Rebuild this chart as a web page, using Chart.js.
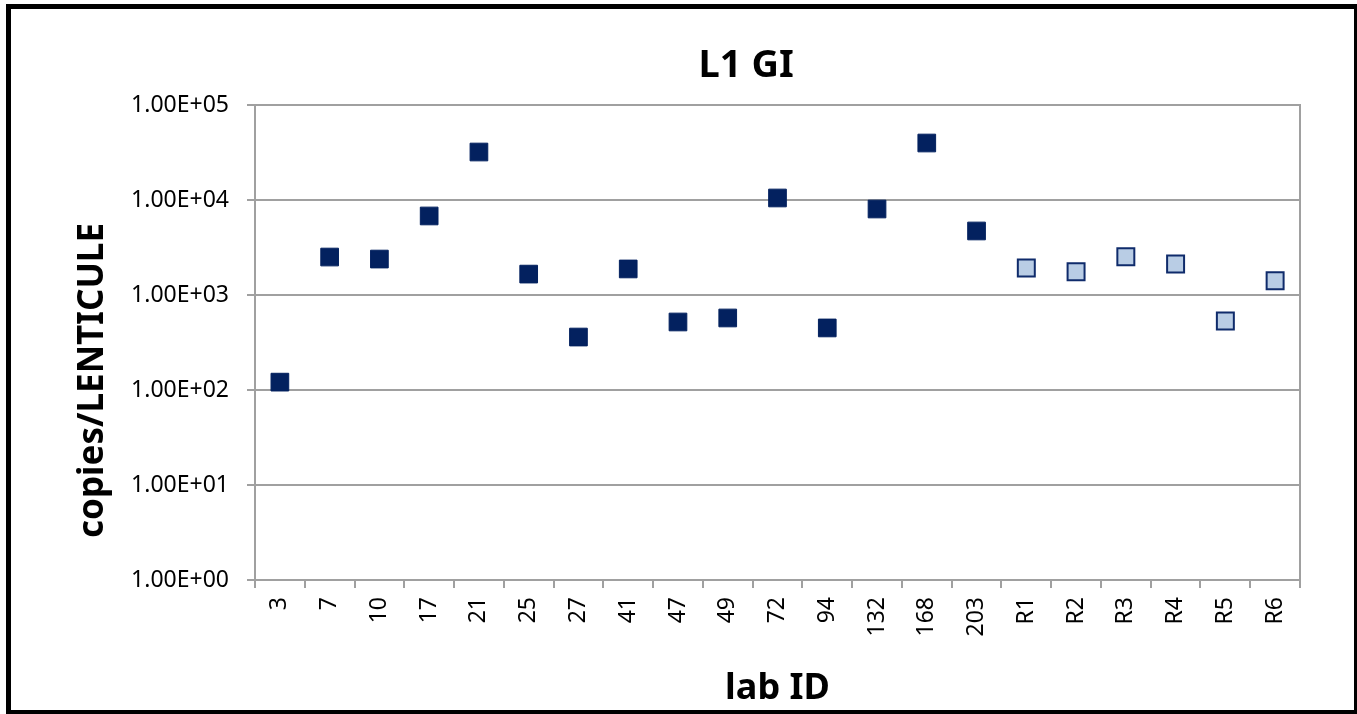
<!DOCTYPE html>
<html>
<head>
<meta charset="utf-8">
<script src="https://cdn.jsdelivr.net/npm/chart.js@4"></script>
<style>
  html, body { margin: 0; padding: 0; background: #fff; overflow: hidden; }
  .frame {
    position: absolute; left: 6px; top: 4px;
    width: 1343px; height: 701px;
    border: 5px solid #000;
  }
</style>
</head>
<body>
<div class="frame"><canvas id="chart"></canvas></div>
<script>
let labIds = ["3", "7", "10", "17", "21", "25", "27", "41", "47", "49", "72", "94", "132", "168", "203"];
let labValues = [121, 2510, 2390, 6790, 32000, 1660, 361, 1880, 520, 573, 10500, 450, 8040, 39800, 4720];

let refIds = ["R1", "R2", "R3", "R4", "R5", "R6"];
let refValues = [1920, 1760, 2530, 2120, 532, 1415];

let yTicks = [1, 10, 100, 1000, 10000, 100000];

let gridGray = "#a0a0a0";
let font = "'Noto Sans', 'Liberation Sans', sans-serif";

function sci(v) {
    let e = Math.round(Math.log10(v));
    return "1.00E+" + String(e).padStart(2, "0");
}

// chart title and y title are placed like the Excel original (not centred on the plot)
let titlePlugin = {
    id: "titleText",
    afterDraw(chart) {
        let ctx = chart.ctx;
        let area = chart.chartArea;
        ctx.save();
        ctx.fillStyle = "#000";
        ctx.textAlign = "center";
        ctx.textBaseline = "middle";
        ctx.font = "bold 38px " + font;
        ctx.fillText("L1 GI", area.left + (area.right - area.left) * 0.47, 57);

        ctx.translate(82, area.top + (area.bottom - area.top) * 0.58);
        ctx.rotate(-Math.PI / 2);
        ctx.font = "bold 35px " + font;
        ctx.fillText("copies/LENTICULE", 0, 0);
        ctx.restore();
    }
};

let chartData = {
    labels: labIds.concat(refIds),
    datasets: [
        {
            label: "labs",
            data: labIds.map((id, i) => ({x: id, y: labValues[i]})),
            showLine: false,
            pointStyle: "rect",
            pointRadius: 12.5,
            backgroundColor: "#03215f",
            borderColor: "#03215f",
            borderWidth: 1,
        },
        {
            label: "reference",
            data: refIds.map((id, i) => ({x: id, y: refValues[i]})),
            showLine: false,
            pointStyle: "rect",
            pointRadius: 12,
            backgroundColor: "#b9cde5",
            borderColor: "#0f2b6b",
            borderWidth: 2,
        },
    ],
};

let chartOptions = {
    responsive: true,
    maintainAspectRatio: false,
    animation: false,
    layout: {
        padding: {left: 60, right: 54, top: 96, bottom: 0},
    },
    plugins: {
        legend: {display: false},
        tooltip: {enabled: false},
    },
    scales: {
        x: {
            type: "category",
            offset: true,
            afterFit: (s) => { s.height = 130; },
            grid: {
                offset: true,
                drawOnChartArea: false,
                tickLength: 8,
                color: gridGray,
                lineWidth: 2,
            },
            border: {color: gridGray, width: 2},
            ticks: {
                autoSkip: false,
                minRotation: 90,
                maxRotation: 90,
                padding: 9,
                color: "#000",
                font: {family: font, size: 23},
            },
            title: {
                display: true,
                text: "lab ID",
                color: "#000",
                align: "center",
                padding: {top: 3, bottom: 0},
                font: {family: font, size: 36, weight: "bold"},
            },
        },
        y: {
            type: "logarithmic",
            min: 1,
            max: 100000,
            afterFit: (s) => { s.width = 184; },
            afterBuildTicks: (s) => { s.ticks = yTicks.map(v => ({value: v})); },
            grid: {
                color: gridGray,
                lineWidth: 2,
                tickLength: 8,
            },
            border: {color: gridGray, width: 2},
            ticks: {
                padding: 18,
                color: "#000",
                font: {family: font, size: 23},
                callback: (v) => sci(v),
            },
        },
        yRight: {
            type: "linear",
            position: "right",
            afterFit: (s) => { s.width = 0; },
            grid: {drawOnChartArea: false, drawTicks: false},
            border: {color: gridGray, width: 2},
            ticks: {display: false},
        },
    },
};

let chart = new Chart(document.getElementById("chart"), {
    type: "line",
    data: chartData,
    options: chartOptions,
    plugins: [titlePlugin],
});
</script>
</body>
</html>
